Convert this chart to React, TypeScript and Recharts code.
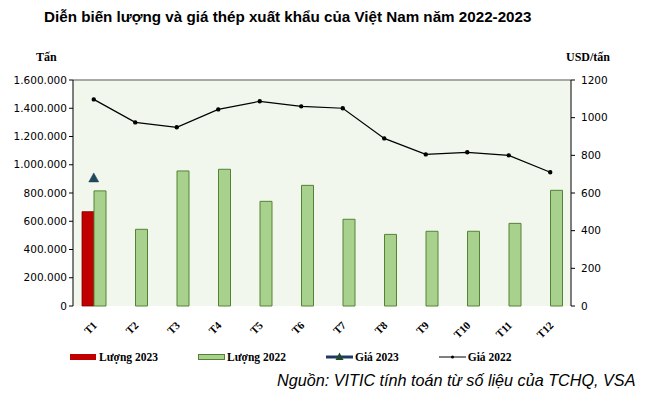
import React from 'react';
import { ComposedChart, Bar, Line, XAxis, YAxis, CartesianGrid, ReferenceLine } from 'recharts';

const months = ['T1', 'T2', 'T3', 'T4', 'T5', 'T6', 'T7', 'T8', 'T9', 'T10', 'T11', 'T12'];
const luong2023 = [668000, null, null, null, null, null, null, null, null, null, null, null];
const luong2022 = [815000, 543000, 956000, 968000, 741000, 854000, 614000, 507000, 529000, 529000, 585000, 819000];
const gia2023 = [680, null, null, null, null, null, null, null, null, null, null, null];
const gia2022 = [1097, 975, 949, 1044, 1087, 1060, 1050, 890, 805, 816, 800, 710];
const leftTicks = [0, 200000, 400000, 600000, 800000, 1000000, 1200000, 1400000, 1600000];
const rightTicks = [0, 200, 400, 600, 800, 1000, 1200];
const boundaryTicks = [0, 1, 2, 3, 4, 5, 6, 7, 8, 9, 10, 11, 12];

const data = months.map((m, i) => ({
  month: m,
  idx: i + 0.5,
  l2023: luong2023[i],
  l2022: luong2022[i],
  g2023: gia2023[i],
  g2022: gia2022[i],
}));

const serif = '"Liberation Serif", "Times New Roman", serif';
const sans = '"Liberation Sans", Arial, sans-serif';
const verdana = '"DejaVu Sans", Verdana, sans-serif';

const fmtLeft = (v: number) => v.toLocaleString('de-DE');

const MonthTick = (props: any) => {
  const { x, y, payload } = props;
  const tx = x + 4;
  const ty = y + 12;
  return (
    <text x={tx} y={ty} transform={`rotate(-45, ${tx}, ${ty})`} textAnchor="end"
      fontFamily={serif} fontWeight="bold" fontSize={11} fill="#000">
      {payload.value}
    </text>
  );
};

const NoLabel = () => <g />;

const Triangle = (props: any) => {
  const { cx, cy, value } = props;
  if (value == null || cx == null || cy == null) return null;
  return <path d={`M${cx},${cy - 5} L${cx + 5},${cy + 4} L${cx - 5},${cy + 4} Z`} fill="#1f4a5c" stroke="#1f3a5f" strokeWidth={0.5} />;
};

const legendText: React.CSSProperties = { fontFamily: serif, fontWeight: 'bold', fontSize: 11.5, color: '#000' };

export default function App() {
  return (
    <div style={{ position: 'absolute', left: 0, top: 0, width: 655, height: 397, background: '#fff' }}>
      <div style={{ position: 'absolute', left: 44, top: 8, fontFamily: sans, fontWeight: 'bold', fontSize: 15.2, color: '#000', whiteSpace: 'nowrap' }}>
        Diễn biến lượng và giá thép xuất khẩu của Việt Nam năm 2022-2023
      </div>
      <div style={{ position: 'absolute', left: 36, top: 50, fontFamily: serif, fontWeight: 'bold', fontSize: 12 }}>Tấn</div>
      <div style={{ position: 'absolute', left: 566, top: 50, fontFamily: serif, fontWeight: 'bold', fontSize: 12 }}>USD/tấn</div>
      <ComposedChart width={655} height={397} data={data} barSize={12} barGap={0}
        margin={{ top: 80, right: 0, bottom: 61, left: 0 }}>
        <CartesianGrid fill="#f2f7ed" horizontal={false} vertical={false} yAxisId="left" />
        <XAxis xAxisId="bounds" dataKey="idx" type="number" domain={[0, 12]} ticks={boundaryTicks}
          tick={<NoLabel />} tickLine={{ stroke: '#000' }} tickSize={5} height={0} stroke="#000" allowDataOverflow />
        <XAxis xAxisId="cat" dataKey="month" tick={<MonthTick />} tickLine={false} axisLine={false}
          height={30} interval={0} />
        <YAxis yAxisId="left" domain={[0, 1600000]} ticks={leftTicks} tickFormatter={fmtLeft} width={73}
          tickSize={4} stroke="#000" tick={{ fontFamily: verdana, fontSize: 10.5, fill: '#000' }} />
        <YAxis yAxisId="right" orientation="right" domain={[0, 1200]} ticks={rightTicks} width={84}
          tickSize={4} stroke="#000" tick={{ fontFamily: verdana, fontSize: 10.5, fill: '#000', dx: 4 }} />
        <ReferenceLine yAxisId="left" xAxisId="cat" y={1600000} stroke="#8c8c8c" strokeWidth={1.5} />
        <Bar xAxisId="cat" yAxisId="left" dataKey="l2023" name="Lượng 2023" fill="#c00000" stroke="#7a0000" strokeWidth={0.8} isAnimationActive={false} />
        <Bar xAxisId="cat" yAxisId="left" dataKey="l2022" name="Lượng 2022" fill="#a9d18e" stroke="#548235" strokeWidth={1} isAnimationActive={false} />
        <Line xAxisId="cat" yAxisId="right" dataKey="g2023" name="Giá 2023" stroke="#1f3864" strokeWidth={2}
          dot={<Triangle />} activeDot={false} isAnimationActive={false} />
        <Line xAxisId="cat" yAxisId="right" dataKey="g2022" name="Giá 2022" stroke="#000" strokeWidth={1.2}
          dot={{ r: 1.6, fill: '#000', stroke: '#000' }} activeDot={false} isAnimationActive={false} />
      </ComposedChart>
      <div style={{ position: 'absolute', left: 70, top: 351, display: 'flex', alignItems: 'center', whiteSpace: 'nowrap' }}>
        <svg width={27} height={10}><rect x={0} y={2} width={26} height={6} fill="#c00000" /></svg>
        <span style={{ ...legendText, marginLeft: 2 }}>Lượng 2023</span>
        <svg width={28} height={10} style={{ marginLeft: 40 }}><rect x={0.5} y={2.5} width={26} height={5} fill="#a9d18e" stroke="#548235" /></svg>
        <span style={{ ...legendText, marginLeft: 1 }}>Lượng 2022</span>
        <svg width={28} height={12} style={{ marginLeft: 40 }}>
          <line x1={0} y1={6} x2={27} y2={6} stroke="#1f3864" strokeWidth={3} />
          <path d="M13.5,1.5 L17.5,9 L9.5,9 Z" fill="#1f4a2c" />
        </svg>
        <span style={{ ...legendText, marginLeft: 1 }}>Giá 2023</span>
        <svg width={28} height={10} style={{ marginLeft: 40 }}>
          <line x1={0} y1={5} x2={27} y2={5} stroke="#000" strokeWidth={1} />
          <circle cx={13.5} cy={5} r={1.5} fill="#000" />
        </svg>
        <span style={{ ...legendText, marginLeft: 1 }}>Giá 2022</span>
      </div>
      <div style={{ position: 'absolute', left: 277, top: 371, fontFamily: sans, fontStyle: 'italic', fontSize: 16.2, color: '#000', whiteSpace: 'nowrap' }}>
        Nguồn: VITIC tính toán từ số liệu của TCHQ, VSA
      </div>
    </div>
  );
}
